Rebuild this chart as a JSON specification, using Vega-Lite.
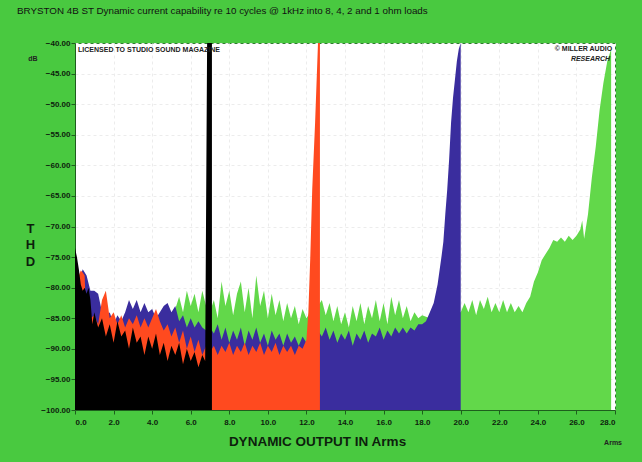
{
  "$schema": "https://vega.github.io/schema/vega-lite/v6.json",
  "width": 540,
  "height": 367,
  "autosize": {"type": "none"},
  "padding": {"left": 75, "top": 43, "right": 27, "bottom": 52},
  "background": "#49c940",
  "title": {
    "text": "BRYSTON 4B ST  Dynamic current capability re  10 cycles @ 1kHz into 8, 4, 2 and 1 ohm loads",
    "anchor": "start",
    "frame": "group",
    "dx": -58,
    "offset": 15,
    "baseline": "alphabetic",
    "font": "Liberation Sans",
    "fontSize": 9.8,
    "fontWeight": "normal",
    "color": "#111111"
  },
  "config": {
    "view": {"fill": "white", "stroke": "#2e7d2e", "strokeWidth": 1},
    "axis": {
      "labelFont": "Liberation Sans",
      "labelFontWeight": "bold",
      "labelFontSize": 8,
      "labelColor": "#0d1f0d",
      "labelOverlap": false,
      "labelSeparation": 0,
      "titleFont": "Liberation Sans",
      "titleFontWeight": "bold",
      "titleColor": "#0d1f0d",
      "domainColor": "#1d5e1d",
      "tickColor": "#1d5e1d",
      "tickSize": 4,
      "gridColor": "#ececec",
      "gridDash": [3, 3]
    },
    "axisX": {"labelOverlap": false},
    "axisY": {"labelOverlap": false},
    "axisQuantitative": {"labelOverlap": false}
  },
  "datasets": {
    "curves": [
      {"load": 8, "amps": 0, "thd": -86}, {"load": 8, "amps": 0.2, "thd": -82}, {"load": 8, "amps": 0.4, "thd": -80}, {"load": 8, "amps": 0.6, "thd": -83}, {"load": 8, "amps": 0.8, "thd": -84}, {"load": 8, "amps": 1.0, "thd": -83}, {"load": 8, "amps": 1.2, "thd": -86}, {"load": 8, "amps": 1.4, "thd": -85}, {"load": 8, "amps": 1.6, "thd": -87}, {"load": 8, "amps": 1.8, "thd": -86}, {"load": 8, "amps": 2.0, "thd": -87}, {"load": 8, "amps": 2.2, "thd": -86}, {"load": 8, "amps": 2.4, "thd": -87}, {"load": 8, "amps": 2.6, "thd": -86}, {"load": 8, "amps": 2.8, "thd": -85}, {"load": 8, "amps": 3.0, "thd": -86.5}, {"load": 8, "amps": 3.2, "thd": -85}, {"load": 8, "amps": 3.4, "thd": -86.5}, {"load": 8, "amps": 3.6, "thd": -85}, {"load": 8, "amps": 3.8, "thd": -86.5}, {"load": 8, "amps": 4.0, "thd": -86}, {"load": 8, "amps": 4.2, "thd": -86.5}, {"load": 8, "amps": 4.4, "thd": -85.5}, {"load": 8, "amps": 4.6, "thd": -85}, {"load": 8, "amps": 4.8, "thd": -84.5}, {"load": 8, "amps": 5.0, "thd": -85}, {"load": 8, "amps": 5.2, "thd": -83.5}, {"load": 8, "amps": 5.4, "thd": -81.5}, {"load": 8, "amps": 5.6, "thd": -84}, {"load": 8, "amps": 5.8, "thd": -80.5}, {"load": 8, "amps": 6.0, "thd": -83}, {"load": 8, "amps": 6.2, "thd": -81}, {"load": 8, "amps": 6.4, "thd": -84}, {"load": 8, "amps": 6.6, "thd": -80.5}, {"load": 8, "amps": 6.8, "thd": -83}, {"load": 8, "amps": 7.0, "thd": -84}, {"load": 8, "amps": 7.2, "thd": -82}, {"load": 8, "amps": 7.4, "thd": -85}, {"load": 8, "amps": 7.6, "thd": -79}, {"load": 8, "amps": 7.8, "thd": -83}, {"load": 8, "amps": 8.0, "thd": -80.5}, {"load": 8, "amps": 8.2, "thd": -84.5}, {"load": 8, "amps": 8.4, "thd": -81}, {"load": 8, "amps": 8.6, "thd": -79}, {"load": 8, "amps": 8.8, "thd": -84}, {"load": 8, "amps": 9.0, "thd": -80}, {"load": 8, "amps": 9.2, "thd": -85}, {"load": 8, "amps": 9.4, "thd": -78}, {"load": 8, "amps": 9.6, "thd": -83}, {"load": 8, "amps": 9.8, "thd": -80.5}, {"load": 8, "amps": 10.0, "thd": -85}, {"load": 8, "amps": 10.2, "thd": -81}, {"load": 8, "amps": 10.4, "thd": -84.5}, {"load": 8, "amps": 10.6, "thd": -82}, {"load": 8, "amps": 10.8, "thd": -85.5}, {"load": 8, "amps": 11.0, "thd": -82.5}, {"load": 8, "amps": 11.2, "thd": -85}, {"load": 8, "amps": 11.4, "thd": -83}, {"load": 8, "amps": 11.6, "thd": -86}, {"load": 8, "amps": 11.8, "thd": -83.5}, {"load": 8, "amps": 12.0, "thd": -85}, {"load": 8, "amps": 12.2, "thd": -84}, {"load": 8, "amps": 12.4, "thd": -85}, {"load": 8, "amps": 12.6, "thd": -83}, {"load": 8, "amps": 12.8, "thd": -82}, {"load": 8, "amps": 13.0, "thd": -84.5}, {"load": 8, "amps": 13.2, "thd": -82.5}, {"load": 8, "amps": 13.4, "thd": -85.5}, {"load": 8, "amps": 13.6, "thd": -83}, {"load": 8, "amps": 13.8, "thd": -86}, {"load": 8, "amps": 14.0, "thd": -84}, {"load": 8, "amps": 14.2, "thd": -86.5}, {"load": 8, "amps": 14.4, "thd": -83}, {"load": 8, "amps": 14.6, "thd": -85.5}, {"load": 8, "amps": 14.8, "thd": -82.5}, {"load": 8, "amps": 15.0, "thd": -86}, {"load": 8, "amps": 15.2, "thd": -83}, {"load": 8, "amps": 15.4, "thd": -85}, {"load": 8, "amps": 15.6, "thd": -82}, {"load": 8, "amps": 15.8, "thd": -85.5}, {"load": 8, "amps": 16.0, "thd": -82.5}, {"load": 8, "amps": 16.2, "thd": -86}, {"load": 8, "amps": 16.4, "thd": -81.5}, {"load": 8, "amps": 16.6, "thd": -84.5}, {"load": 8, "amps": 16.8, "thd": -82}, {"load": 8, "amps": 17.0, "thd": -85}, {"load": 8, "amps": 17.2, "thd": -83}, {"load": 8, "amps": 17.4, "thd": -85.5}, {"load": 8, "amps": 17.6, "thd": -84}, {"load": 8, "amps": 17.8, "thd": -85}, {"load": 8, "amps": 18.0, "thd": -84.5}, {"load": 8, "amps": 18.4, "thd": -85}, {"load": 8, "amps": 18.8, "thd": -84}, {"load": 8, "amps": 19.2, "thd": -85}, {"load": 8, "amps": 19.6, "thd": -84}, {"load": 8, "amps": 20.0, "thd": -84}, {"load": 8, "amps": 20.2, "thd": -82.5}, {"load": 8, "amps": 20.4, "thd": -84}, {"load": 8, "amps": 20.6, "thd": -82}, {"load": 8, "amps": 20.8, "thd": -84.5}, {"load": 8, "amps": 21.0, "thd": -82}, {"load": 8, "amps": 21.2, "thd": -83.5}, {"load": 8, "amps": 21.4, "thd": -81.5}, {"load": 8, "amps": 21.6, "thd": -84}, {"load": 8, "amps": 21.8, "thd": -82.5}, {"load": 8, "amps": 22.0, "thd": -84}, {"load": 8, "amps": 22.2, "thd": -82}, {"load": 8, "amps": 22.4, "thd": -84}, {"load": 8, "amps": 22.6, "thd": -82.5}, {"load": 8, "amps": 22.8, "thd": -84}, {"load": 8, "amps": 23.0, "thd": -83}, {"load": 8, "amps": 23.2, "thd": -84}, {"load": 8, "amps": 23.4, "thd": -82.5}, {"load": 8, "amps": 23.6, "thd": -81.5}, {"load": 8, "amps": 23.8, "thd": -79}, {"load": 8, "amps": 24.0, "thd": -77.5}, {"load": 8, "amps": 24.2, "thd": -75.5}, {"load": 8, "amps": 24.4, "thd": -74.5}, {"load": 8, "amps": 24.6, "thd": -73.5}, {"load": 8, "amps": 24.8, "thd": -72.2}, {"load": 8, "amps": 25.0, "thd": -72.5}, {"load": 8, "amps": 25.2, "thd": -71.8}, {"load": 8, "amps": 25.4, "thd": -72.5}, {"load": 8, "amps": 25.6, "thd": -71.5}, {"load": 8, "amps": 25.8, "thd": -72.2}, {"load": 8, "amps": 26.0, "thd": -71.5}, {"load": 8, "amps": 26.2, "thd": -70.5}, {"load": 8, "amps": 26.3, "thd": -69}, {"load": 8, "amps": 26.4, "thd": -72}, {"load": 8, "amps": 26.6, "thd": -68}, {"load": 8, "amps": 26.8, "thd": -62}, {"load": 8, "amps": 27.0, "thd": -57}, {"load": 8, "amps": 27.2, "thd": -51}, {"load": 8, "amps": 27.4, "thd": -46.5}, {"load": 8, "amps": 27.6, "thd": -43}, {"load": 8, "amps": 27.8, "thd": -41},

      {"load": 4, "amps": 0, "thd": -80}, {"load": 4, "amps": 0.2, "thd": -79}, {"load": 4, "amps": 0.4, "thd": -77}, {"load": 4, "amps": 0.6, "thd": -78}, {"load": 4, "amps": 0.8, "thd": -80.5}, {"load": 4, "amps": 1.0, "thd": -80.5}, {"load": 4, "amps": 1.2, "thd": -81}, {"load": 4, "amps": 1.4, "thd": -84}, {"load": 4, "amps": 1.6, "thd": -85}, {"load": 4, "amps": 1.8, "thd": -84}, {"load": 4, "amps": 2.0, "thd": -86}, {"load": 4, "amps": 2.2, "thd": -84.5}, {"load": 4, "amps": 2.4, "thd": -85.5}, {"load": 4, "amps": 2.6, "thd": -84}, {"load": 4, "amps": 2.8, "thd": -82}, {"load": 4, "amps": 3.0, "thd": -83.5}, {"load": 4, "amps": 3.2, "thd": -82}, {"load": 4, "amps": 3.4, "thd": -84}, {"load": 4, "amps": 3.6, "thd": -82.5}, {"load": 4, "amps": 3.8, "thd": -84}, {"load": 4, "amps": 4.0, "thd": -83.5}, {"load": 4, "amps": 4.2, "thd": -85}, {"load": 4, "amps": 4.4, "thd": -84}, {"load": 4, "amps": 4.6, "thd": -83}, {"load": 4, "amps": 4.8, "thd": -82.5}, {"load": 4, "amps": 5.0, "thd": -84}, {"load": 4, "amps": 5.2, "thd": -83}, {"load": 4, "amps": 5.4, "thd": -85.5}, {"load": 4, "amps": 5.6, "thd": -84.5}, {"load": 4, "amps": 5.8, "thd": -86.5}, {"load": 4, "amps": 6.0, "thd": -85}, {"load": 4, "amps": 6.2, "thd": -86.5}, {"load": 4, "amps": 6.4, "thd": -85.5}, {"load": 4, "amps": 6.6, "thd": -86.5}, {"load": 4, "amps": 6.8, "thd": -87}, {"load": 4, "amps": 7.0, "thd": -86.5}, {"load": 4, "amps": 7.2, "thd": -87.5}, {"load": 4, "amps": 7.4, "thd": -86}, {"load": 4, "amps": 7.6, "thd": -88.5}, {"load": 4, "amps": 7.8, "thd": -86.5}, {"load": 4, "amps": 8.0, "thd": -89}, {"load": 4, "amps": 8.2, "thd": -87}, {"load": 4, "amps": 8.4, "thd": -88.5}, {"load": 4, "amps": 8.6, "thd": -86.5}, {"load": 4, "amps": 8.8, "thd": -89.5}, {"load": 4, "amps": 9.0, "thd": -87}, {"load": 4, "amps": 9.2, "thd": -88.5}, {"load": 4, "amps": 9.4, "thd": -86.5}, {"load": 4, "amps": 9.6, "thd": -89}, {"load": 4, "amps": 9.8, "thd": -87.5}, {"load": 4, "amps": 10.0, "thd": -89.5}, {"load": 4, "amps": 10.2, "thd": -87}, {"load": 4, "amps": 10.4, "thd": -88.5}, {"load": 4, "amps": 10.6, "thd": -87.5}, {"load": 4, "amps": 10.8, "thd": -89.5}, {"load": 4, "amps": 11.0, "thd": -87.5}, {"load": 4, "amps": 11.2, "thd": -89}, {"load": 4, "amps": 11.4, "thd": -88}, {"load": 4, "amps": 11.6, "thd": -89.5}, {"load": 4, "amps": 11.8, "thd": -88}, {"load": 4, "amps": 12.0, "thd": -89}, {"load": 4, "amps": 12.2, "thd": -88}, {"load": 4, "amps": 12.4, "thd": -88.5}, {"load": 4, "amps": 12.6, "thd": -87}, {"load": 4, "amps": 12.8, "thd": -88}, {"load": 4, "amps": 13.0, "thd": -86.5}, {"load": 4, "amps": 13.2, "thd": -88.5}, {"load": 4, "amps": 13.4, "thd": -87}, {"load": 4, "amps": 13.6, "thd": -89}, {"load": 4, "amps": 13.8, "thd": -87.5}, {"load": 4, "amps": 14.0, "thd": -88.5}, {"load": 4, "amps": 14.2, "thd": -87}, {"load": 4, "amps": 14.4, "thd": -89.5}, {"load": 4, "amps": 14.6, "thd": -87.5}, {"load": 4, "amps": 14.8, "thd": -88.5}, {"load": 4, "amps": 15.0, "thd": -87}, {"load": 4, "amps": 15.2, "thd": -89}, {"load": 4, "amps": 15.4, "thd": -87.5}, {"load": 4, "amps": 15.6, "thd": -88}, {"load": 4, "amps": 15.8, "thd": -86.5}, {"load": 4, "amps": 16.0, "thd": -88.5}, {"load": 4, "amps": 16.2, "thd": -87}, {"load": 4, "amps": 16.4, "thd": -88}, {"load": 4, "amps": 16.6, "thd": -86.5}, {"load": 4, "amps": 16.8, "thd": -87.5}, {"load": 4, "amps": 17.0, "thd": -86.5}, {"load": 4, "amps": 17.2, "thd": -87.5}, {"load": 4, "amps": 17.4, "thd": -86.5}, {"load": 4, "amps": 17.6, "thd": -87}, {"load": 4, "amps": 17.8, "thd": -86}, {"load": 4, "amps": 18.0, "thd": -86}, {"load": 4, "amps": 18.2, "thd": -85.5}, {"load": 4, "amps": 18.4, "thd": -84}, {"load": 4, "amps": 18.6, "thd": -82.5}, {"load": 4, "amps": 18.8, "thd": -79.5}, {"load": 4, "amps": 19.0, "thd": -75}, {"load": 4, "amps": 19.1, "thd": -72.5}, {"load": 4, "amps": 19.2, "thd": -68}, {"load": 4, "amps": 19.3, "thd": -64}, {"load": 4, "amps": 19.4, "thd": -59}, {"load": 4, "amps": 19.5, "thd": -53}, {"load": 4, "amps": 19.6, "thd": -49}, {"load": 4, "amps": 19.7, "thd": -46}, {"load": 4, "amps": 19.8, "thd": -43}, {"load": 4, "amps": 19.9, "thd": -41}, {"load": 4, "amps": 20.0, "thd": -40},

      {"load": 2, "amps": 0, "thd": -85}, {"load": 2, "amps": 0.2, "thd": -78}, {"load": 2, "amps": 0.3, "thd": -77.2}, {"load": 2, "amps": 0.4, "thd": -77.5}, {"load": 2, "amps": 0.5, "thd": -78}, {"load": 2, "amps": 0.6, "thd": -87}, {"load": 2, "amps": 0.8, "thd": -85}, {"load": 2, "amps": 1.0, "thd": -84.5}, {"load": 2, "amps": 1.2, "thd": -86}, {"load": 2, "amps": 1.4, "thd": -82}, {"load": 2, "amps": 1.6, "thd": -80.5}, {"load": 2, "amps": 1.8, "thd": -85}, {"load": 2, "amps": 2.0, "thd": -84}, {"load": 2, "amps": 2.2, "thd": -86}, {"load": 2, "amps": 2.4, "thd": -84.5}, {"load": 2, "amps": 2.6, "thd": -86.5}, {"load": 2, "amps": 2.8, "thd": -85}, {"load": 2, "amps": 3.0, "thd": -86}, {"load": 2, "amps": 3.2, "thd": -84.5}, {"load": 2, "amps": 3.4, "thd": -86.5}, {"load": 2, "amps": 3.6, "thd": -85}, {"load": 2, "amps": 3.8, "thd": -86.5}, {"load": 2, "amps": 4.0, "thd": -85}, {"load": 2, "amps": 4.2, "thd": -83.5}, {"load": 2, "amps": 4.4, "thd": -85.5}, {"load": 2, "amps": 4.6, "thd": -87}, {"load": 2, "amps": 4.8, "thd": -86}, {"load": 2, "amps": 5.0, "thd": -88}, {"load": 2, "amps": 5.2, "thd": -86.5}, {"load": 2, "amps": 5.4, "thd": -89}, {"load": 2, "amps": 5.6, "thd": -87}, {"load": 2, "amps": 5.8, "thd": -90}, {"load": 2, "amps": 6.0, "thd": -88}, {"load": 2, "amps": 6.2, "thd": -90.5}, {"load": 2, "amps": 6.4, "thd": -88.5}, {"load": 2, "amps": 6.6, "thd": -91}, {"load": 2, "amps": 6.8, "thd": -89.5}, {"load": 2, "amps": 7.0, "thd": -90.5}, {"load": 2, "amps": 7.2, "thd": -89.5}, {"load": 2, "amps": 7.4, "thd": -91}, {"load": 2, "amps": 7.6, "thd": -89.5}, {"load": 2, "amps": 7.8, "thd": -90.5}, {"load": 2, "amps": 8.0, "thd": -89}, {"load": 2, "amps": 8.2, "thd": -91}, {"load": 2, "amps": 8.4, "thd": -89.5}, {"load": 2, "amps": 8.6, "thd": -90.5}, {"load": 2, "amps": 8.8, "thd": -89}, {"load": 2, "amps": 9.0, "thd": -91}, {"load": 2, "amps": 9.2, "thd": -89.5}, {"load": 2, "amps": 9.4, "thd": -90.5}, {"load": 2, "amps": 9.6, "thd": -89}, {"load": 2, "amps": 9.8, "thd": -91}, {"load": 2, "amps": 10.0, "thd": -89.5}, {"load": 2, "amps": 10.2, "thd": -90.5}, {"load": 2, "amps": 10.4, "thd": -89}, {"load": 2, "amps": 10.6, "thd": -91}, {"load": 2, "amps": 10.8, "thd": -89.5}, {"load": 2, "amps": 11.0, "thd": -90.5}, {"load": 2, "amps": 11.2, "thd": -89.5}, {"load": 2, "amps": 11.4, "thd": -91}, {"load": 2, "amps": 11.6, "thd": -89.5}, {"load": 2, "amps": 11.8, "thd": -90}, {"load": 2, "amps": 12.0, "thd": -88.5}, {"load": 2, "amps": 12.1, "thd": -84}, {"load": 2, "amps": 12.2, "thd": -75}, {"load": 2, "amps": 12.3, "thd": -64}, {"load": 2, "amps": 12.45, "thd": -53}, {"load": 2, "amps": 12.6, "thd": -40}, {"load": 2, "amps": 12.7, "thd": -40},

      {"load": 1, "amps": 0, "thd": -73.5}, {"load": 1, "amps": 0.1, "thd": -75}, {"load": 1, "amps": 0.2, "thd": -77}, {"load": 1, "amps": 0.3, "thd": -79.5}, {"load": 1, "amps": 0.4, "thd": -80.5}, {"load": 1, "amps": 0.5, "thd": -80}, {"load": 1, "amps": 0.6, "thd": -81}, {"load": 1, "amps": 0.7, "thd": -80}, {"load": 1, "amps": 0.8, "thd": -82}, {"load": 1, "amps": 0.9, "thd": -86}, {"load": 1, "amps": 1.0, "thd": -84}, {"load": 1, "amps": 1.2, "thd": -86.5}, {"load": 1, "amps": 1.4, "thd": -85}, {"load": 1, "amps": 1.6, "thd": -88}, {"load": 1, "amps": 1.8, "thd": -86}, {"load": 1, "amps": 2.0, "thd": -89}, {"load": 1, "amps": 2.2, "thd": -85.5}, {"load": 1, "amps": 2.4, "thd": -88}, {"load": 1, "amps": 2.6, "thd": -87}, {"load": 1, "amps": 2.8, "thd": -90}, {"load": 1, "amps": 3.0, "thd": -86.5}, {"load": 1, "amps": 3.2, "thd": -89}, {"load": 1, "amps": 3.4, "thd": -88}, {"load": 1, "amps": 3.6, "thd": -91}, {"load": 1, "amps": 3.8, "thd": -88}, {"load": 1, "amps": 4.0, "thd": -90}, {"load": 1, "amps": 4.2, "thd": -87.5}, {"load": 1, "amps": 4.4, "thd": -91}, {"load": 1, "amps": 4.6, "thd": -89}, {"load": 1, "amps": 4.8, "thd": -92}, {"load": 1, "amps": 5.0, "thd": -89.5}, {"load": 1, "amps": 5.2, "thd": -91}, {"load": 1, "amps": 5.4, "thd": -89}, {"load": 1, "amps": 5.6, "thd": -92.5}, {"load": 1, "amps": 5.8, "thd": -90}, {"load": 1, "amps": 6.0, "thd": -92}, {"load": 1, "amps": 6.2, "thd": -90.5}, {"load": 1, "amps": 6.4, "thd": -93}, {"load": 1, "amps": 6.6, "thd": -91}, {"load": 1, "amps": 6.75, "thd": -92}, {"load": 1, "amps": 6.85, "thd": -40}, {"load": 1, "amps": 7.1, "thd": -40}
    ]
  },
  "layer": [
    {
      "data": {"name": "curves"},
      "encoding": {
        "x": {"field": "amps", "type": "quantitative", "scale": {"domain": [0, 28], "nice": false},
          "axis": {"values": [0, 2, 4, 6, 8, 10, 12, 14, 16, 18, 20, 22, 24, 26, 28], "format": ".1f", "labelPadding": 4, "labelOverlap": false, "grid": true,
            "title": "DYNAMIC OUTPUT IN Arms", "titleFontSize": 13.5, "titleX": 242, "titleY": 35, "titleBaseline": "alphabetic", "titleAnchor": "middle", "titleAlign": "center"}},
        "y": {"field": "thd", "type": "quantitative", "scale": {"domain": [-100, -40], "nice": false, "zero": false},
          "axis": {"values": [-100, -95, -90, -85, -80, -75, -70, -65, -60, -55, -50, -45, -40], "format": ".2f", "labelPadding": 1, "labelOverlap": false, "grid": true,
            "title": ["T", "H", "D"], "titleAngle": 0, "titleX": -45, "titleY": 189, "titleAlign": "center", "titleBaseline": "alphabetic", "titleLineHeight": 16.5, "titleFontSize": 13}},
        "y2": {"datum": -100}
      },
      "layer": [
        {"transform": [{"filter": "datum.load == 8"}], "mark": {"type": "area", "color": "#62d84a", "clip": true}},
        {"transform": [{"filter": "datum.load == 4"}], "mark": {"type": "area", "color": "#3a2d9e", "clip": true}},
        {"transform": [{"filter": "datum.load == 2"}], "mark": {"type": "area", "color": "#ff4a1f", "clip": true}},
        {"transform": [{"filter": "datum.load == 1"}], "mark": {"type": "area", "color": "#000000", "clip": true}}
      ]
    },
    {
      "data": {"values": [
        {"note": "LICENSED TO STUDIO SOUND MAGAZINE", "amps": 0.16, "thd": -41.5, "pos": "left"},
        {"note": "© MILLER AUDIO", "amps": 27.85, "thd": -41.3, "pos": "right"},
        {"note": "dB", "amps": -2.18, "thd": -43.0, "pos": "mid"},
        {"note": "Arms", "amps": 27.9, "thd": -105.8, "pos": "mid"}
      ]},
      "encoding": {
        "x": {"field": "amps", "type": "quantitative", "scale": {"domain": [0, 28], "nice": false},
          "axis": {"values": [0, 2, 4, 6, 8, 10, 12, 14, 16, 18, 20, 22, 24, 26, 28], "format": ".1f", "labelPadding": 4, "labelOverlap": false, "grid": true,
            "title": "DYNAMIC OUTPUT IN Arms", "titleFontSize": 13.5, "titleX": 242, "titleY": 35, "titleBaseline": "alphabetic", "titleAnchor": "middle", "titleAlign": "center"}},
        "y": {"field": "thd", "type": "quantitative", "scale": {"domain": [-100, -40], "nice": false, "zero": false},
          "axis": {"values": [-100, -95, -90, -85, -80, -75, -70, -65, -60, -55, -50, -45, -40], "format": ".2f", "labelPadding": 1, "labelOverlap": false, "grid": true,
            "title": ["T", "H", "D"], "titleAngle": 0, "titleX": -45, "titleY": 189, "titleAlign": "center", "titleBaseline": "alphabetic", "titleLineHeight": 16.5, "titleFontSize": 13}},
        "text": {"field": "note"}
      },
      "layer": [
        {"transform": [{"filter": "datum.pos == 'left'"}], "mark": {"type": "text", "align": "left", "baseline": "alphabetic", "font": "Liberation Sans", "fontSize": 7, "fontWeight": "bold", "color": "#222222"}},
        {"transform": [{"filter": "datum.pos == 'right'"}], "mark": {"type": "text", "align": "right", "baseline": "alphabetic", "font": "Liberation Sans", "fontSize": 7, "fontWeight": "bold", "color": "#222222"}},
        {"transform": [{"filter": "datum.pos == 'mid'"}], "mark": {"type": "text", "align": "center", "baseline": "alphabetic", "font": "Liberation Sans", "fontSize": 7, "fontWeight": "bold", "color": "#222222"}}
      ]
    },
    {
      "data": {"values": [{"note": "RESEARCH", "amps": 27.75, "thd": -42.95}]},
      "mark": {"type": "text", "align": "right", "baseline": "alphabetic", "font": "Liberation Sans", "fontSize": 7, "fontWeight": "bold", "fontStyle": "italic", "color": "#222222"},
      "encoding": {
        "x": {"field": "amps", "type": "quantitative", "scale": {"domain": [0, 28], "nice": false},
          "axis": {"values": [0, 2, 4, 6, 8, 10, 12, 14, 16, 18, 20, 22, 24, 26, 28], "format": ".1f", "labelPadding": 4, "labelOverlap": false, "grid": true,
            "title": "DYNAMIC OUTPUT IN Arms", "titleFontSize": 13.5, "titleX": 242, "titleY": 35, "titleBaseline": "alphabetic", "titleAnchor": "middle", "titleAlign": "center"}},
        "y": {"field": "thd", "type": "quantitative", "scale": {"domain": [-100, -40], "nice": false, "zero": false},
          "axis": {"values": [-100, -95, -90, -85, -80, -75, -70, -65, -60, -55, -50, -45, -40], "format": ".2f", "labelPadding": 1, "labelOverlap": false, "grid": true,
            "title": ["T", "H", "D"], "titleAngle": 0, "titleX": -45, "titleY": 189, "titleAlign": "center", "titleBaseline": "alphabetic", "titleLineHeight": 16.5, "titleFontSize": 13}},
        "text": {"field": "note"}
      }
    }
  ]
}
